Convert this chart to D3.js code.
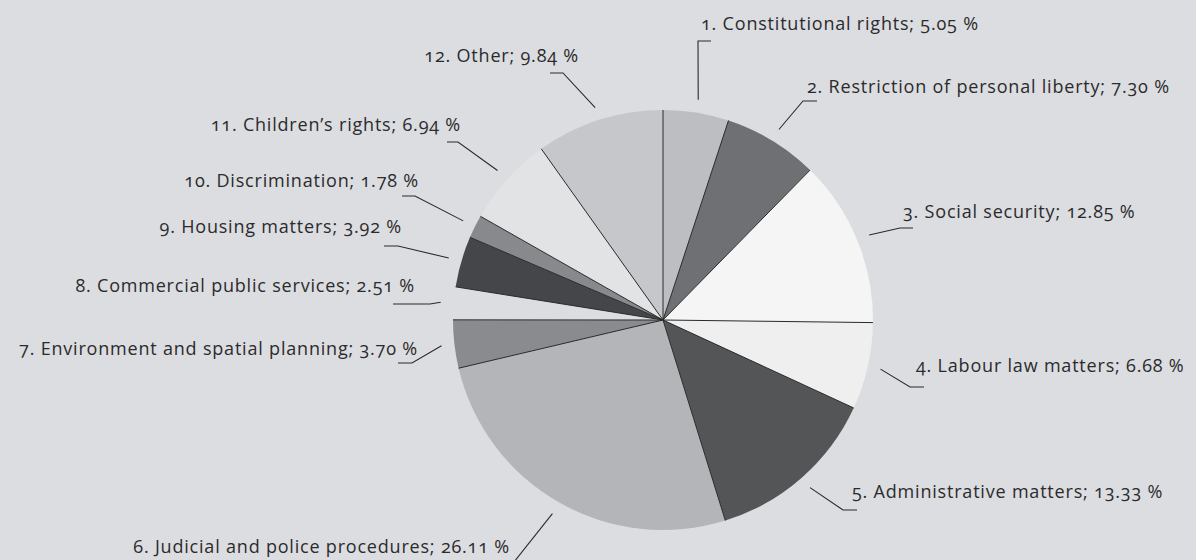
<!DOCTYPE html>
<html>
<head>
<meta charset="utf-8">
<script src="https://cdn.jsdelivr.net/npm/d3@7"></script>
<style>
  body { margin: 0; background: #dcdde0; }
  text { font-family: "Open Sans", "Noto Sans", sans-serif; font-variant-numeric: oldstyle-nums; font-feature-settings: "onum" 1; }
</style>
</head>
<body>
<svg id="pie" width="1196" height="560"></svg>
<script>
var categories = ["Constitutional rights", "Restriction of personal liberty", "Social security",
  "Labour law matters", "Administrative matters", "Judicial and police procedures",
  "Environment and spatial planning", "Commercial public services", "Housing matters",
  "Discrimination", "Children\u2019s rights", "Other"];
var shares = [5.05, 7.30, 12.85, 6.68, 13.33, 26.11, 3.70, 2.51, 3.92, 1.78, 6.94, 9.84];

var sliceColors = ["#bdbec1", "#6f7073", "#f5f5f5", "#efeff0", "#545557", "#b4b5b8",
  "#8a8b8e", "#dcdde0", "#45464a", "#88898c", "#e2e3e5", "#c6c7ca"];

// hand placed label layout: elbow of the leader, end of the short stub, text anchor
var labelLayout = [
  {ex: 698, ey: 41,  sx: 711, tx: 701, ty: 30,  anchor: "start"},
  {ex: 803, ey: 101, sx: 817, tx: 807, ty: 93,  anchor: "start"},
  {ex: 900, ey: 228, sx: 913, tx: 903, ty: 218, anchor: "start"},
  {ex: 910, ey: 387, sx: 924, tx: 916, ty: 372, anchor: "start"},
  {ex: 843, ey: 510, sx: 857, tx: 852, ty: 498, anchor: "start"},
  {ex: 514, ey: 562, sx: 514, tx: 510, ty: 553, anchor: "end"},
  {ex: 412, ey: 363, sx: 398, tx: 418, ty: 355, anchor: "end"},
  {ex: 430, ey: 304, sx: 393, tx: 415, ty: 292, anchor: "end"},
  {ex: 398, ey: 246, sx: 384, tx: 402, ty: 233, anchor: "end"},
  {ex: 415, ey: 196, sx: 402, tx: 419, ty: 187, anchor: "end"},
  {ex: 458, ey: 142, sx: 447, tx: 461, ty: 131, anchor: "end"},
  {ex: 563, ey: 73,  sx: 550, tx: 579, ty: 62,  anchor: "end"}
];

var svg = d3.select("#pie"),
  width = +svg.attr("width"),
  height = +svg.attr("height"),
  cx = 663, cy = 320, radius = 210;

svg.append("rect")
  .attr("width", width)
  .attr("height", height)
  .attr("fill", "#dcdde0");

var data = categories.map(function(c, i) { return {name: c, value: shares[i], idx: i}; });

var pie = d3.pie()
  .sort(null)
  .value(function(d) { return d.value; });

var arcs = pie(data);

var arc = d3.arc().innerRadius(0).outerRadius(radius);
var leaderArc = d3.arc().innerRadius(223).outerRadius(223);

var g = svg.append("g").attr("transform", "translate(" + cx + "," + cy + ")");

g.selectAll("path.slice")
  .data(arcs)
  .enter().append("path")
  .attr("class", "slice")
  .attr("d", arc)
  .style("fill", function(d) { return sliceColors[d.data.idx]; })
  .style("stroke", "none");

// radial separators between the slices
g.selectAll("line.sep")
  .data(arcs)
  .enter().append("line")
  .attr("class", "sep")
  .attr("x1", 0)
  .attr("y1", 0)
  .attr("x2", function(d) { return radius * Math.sin(d.startAngle); })
  .attr("y2", function(d) { return -radius * Math.cos(d.startAngle); })
  .style("stroke", "#2a2a2c")
  .style("stroke-width", 1);

// leaders
svg.selectAll("polyline.leader")
  .data(arcs)
  .enter().append("polyline")
  .attr("class", "leader")
  .attr("points", function(d) {
    var p = leaderArc.centroid(d);
    var l = labelLayout[d.data.idx];
    return [[cx + p[0], cy + p[1]], [l.ex, l.ey], [l.sx, l.ey]].join(" ");
  })
  .style("fill", "none")
  .style("stroke", "#2a2a2c")
  .style("stroke-width", 1.1);

svg.selectAll("text.label")
  .data(arcs)
  .enter().append("text")
  .attr("class", "label")
  .attr("x", function(d) { return labelLayout[d.data.idx].tx; })
  .attr("y", function(d) { return labelLayout[d.data.idx].ty; })
  .attr("text-anchor", function(d) { return labelLayout[d.data.idx].anchor; })
  .style("font-size", "18px")
  .style("letter-spacing", "0.8px")
  .style("fill", "#2b2b2d")
  .text(function(d) { return (d.data.idx + 1) + ". " + d.data.name + "; " + d.data.value.toFixed(2) + " %"; });
</script>
</body>
</html>
